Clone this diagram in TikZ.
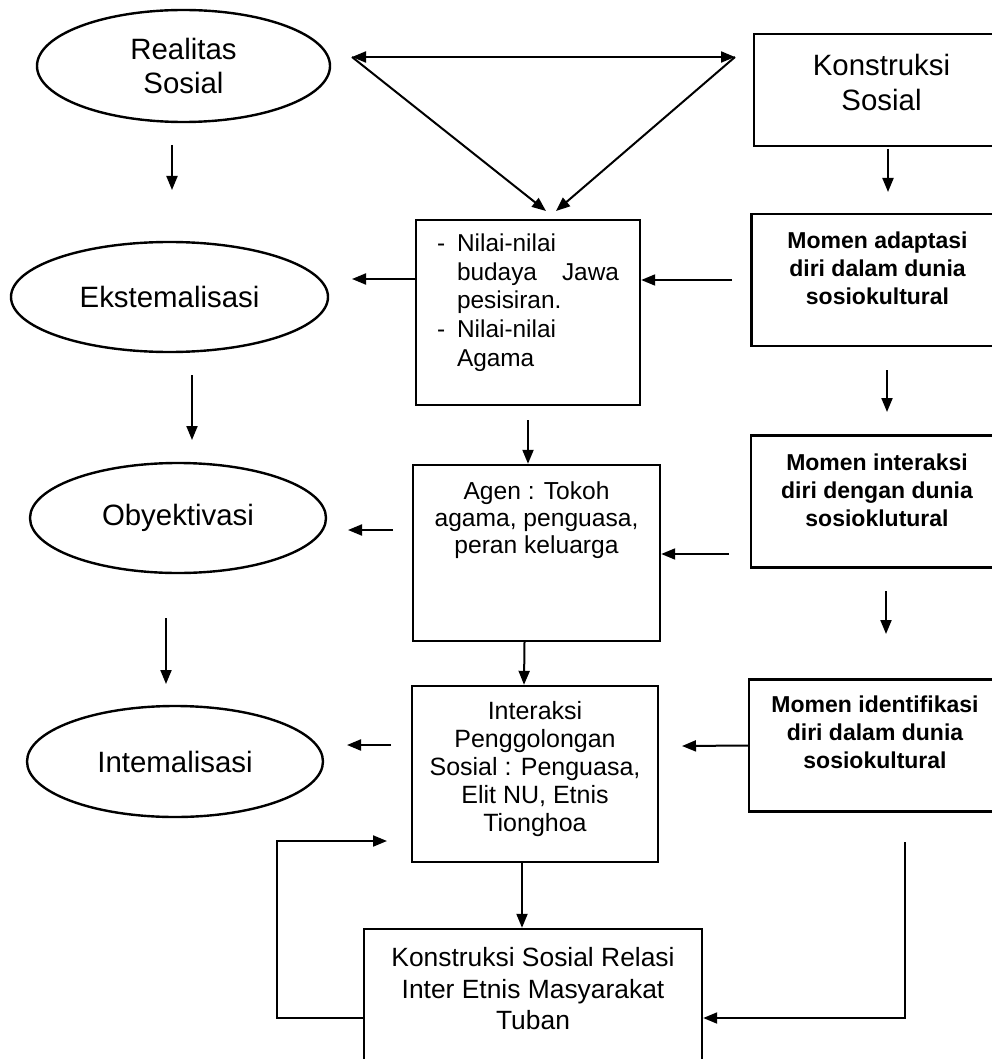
\documentclass[tikz,border=0pt]{standalone}
\usepackage{fontspec}
\setmainfont{Liberation Sans}
\usetikzlibrary{shapes.geometric,arrows.meta}

\begin{document}
\begin{tikzpicture}[x=0.5pt, y=-0.5pt,
  oval/.style={draw, ellipse, line width=1.2pt, inner sep=0pt, align=center, font=\fontsize{14.7}{17}\selectfont},
  box/.style={draw, line width=1.2pt, inner sep=0pt, align=center},
  momen/.style={box, minimum width=126pt, minimum height=66pt, font=\fontsize{11.5}{14}\selectfont\bfseries},
  arr/.style={line width=1pt, -{Triangle[length=7pt,width=5.5pt]}}]
\useasboundingbox (0,0) rectangle (991,1059);
% left column: the three moments
\node[oval, minimum width=146.5pt, minimum height=56pt] (real) at (183.5,66) {Realitas\\Sosial};
\node[oval, minimum width=158.5pt, minimum height=55pt] (ekst) at (169.5,297) {Ekstemalisasi};
\node[oval, minimum width=148pt, minimum height=55pt] (obyek) at (178,518) {Obyektivasi};
\node[oval, minimum width=148pt, minimum height=55.5pt] (intem) at (175,761.5) {Intemalisasi};
% middle column
\node[box, align=left, minimum width=112pt, minimum height=92.5pt, text depth=12.5pt, font=\fontsize{12.2}{14.4}\selectfont] (nilai) at (528,312.5)
  {-\hspace{6pt}Nilai-nilai\\\hspace*{10pt}\makebox[81pt][s]{budaya Jawa}\\\hspace*{10pt}pesisiran.\\-\hspace{6pt}Nilai-nilai\\\hspace*{10pt}Agama};
\node[box, minimum width=123.5pt, minimum height=88pt, text depth=35pt, font=\fontsize{12.3}{13.5}\selectfont] (agen) at (536.5,553)
  {Agen : Tokoh\\agama, penguasa,\\peran keluarga};
\node[box, minimum width=123pt, minimum height=88pt, text depth=7.5pt, font=\fontsize{12.5}{14}\selectfont] (inter) at (535,774)
  {Interaksi\\Penggolongan\\Sosial : Penguasa,\\Elit NU, Etnis\\Tionghoa};
\node[box, minimum width=169pt, minimum height=69.5pt, text depth=10pt, font=\fontsize{13.2}{15.75}\selectfont] (relasi) at (533,998.5)
  {Konstruksi Sosial Relasi\\Inter Etnis Masyarakat\\Tuban};
% right column
\node[box, minimum width=127.5pt, minimum height=56pt, text depth=7.5pt, font=\fontsize{14.7}{17.5}\selectfont] (konsos) at (881.5,90) {Konstruksi\\Sosial};
\node[momen, text depth=12pt] (mad) at (877.5,280) {Momen adaptasi\\diri dalam dunia\\sosiokultural};
\node[momen, text depth=11pt] (mint) at (877,501.5) {Momen interaksi\\diri dengan dunia\\sosioklutural};
\node[momen, text depth=13pt] (mid) at (875,745.5) {Momen identifikasi\\diri dalam dunia\\sosiokultural};

% free ends of the connectors
\coordinate (tl) at (352,57); \coordinate (tr) at (735,57);
\coordinate (bl) at (546,211); \coordinate (br) at (556,211);
\coordinate (a1s) at (172,145); \coordinate (a1e) at (172,190);
\coordinate (a3s) at (888,149); \coordinate (a3e) at (888,192);
\coordinate (a4) at (732,280); \coordinate (a5) at (352,279);
\coordinate (a6s) at (192,375); \coordinate (a6e) at (192,440);
\coordinate (a7) at (528,420);
\coordinate (a8s) at (393,530); \coordinate (a8e) at (348,530);
\coordinate (a9s) at (887,370); \coordinate (a9e) at (887,412);
\coordinate (a10) at (729,554);
\coordinate (a12s) at (166,618); \coordinate (a12e) at (166,684);
\coordinate (a13s) at (886,591); \coordinate (a13e) at (886,634);
\coordinate (a14s) at (391,745); \coordinate (a14e) at (347,745);
\coordinate (a15) at (682,746);
\coordinate (fb) at (277,1018); \coordinate (fbt) at (387,841);
\coordinate (rs) at (905,842);

% triangle on top
\draw[arr, {Triangle[length=7pt,width=5.5pt]}-{Triangle[length=7pt,width=5.5pt]}] (tl) -- (tr);
\draw[arr] (tl) -- (bl);
\draw[arr] (tr) -- (br);
% vertical arrows
\draw[arr] (a1s) -- (a1e);
\draw[arr] (a3s) -- (a3e);
\draw[arr] (a6s) -- (a6e);
\draw[arr] (a9s) -- (a9e);
\draw[arr] (a12s) -- (a12e);
\draw[arr] (a13s) -- (a13e);
\draw[arr] (a7) -- (a7 |- agen.north);
\draw[arr] ([xshift=-6pt]agen.south) -- ([xshift=-5.5pt]inter.north);
\draw[arr] ([xshift=-6.5pt]inter.south) -- ([xshift=-5.5pt]relasi.north);
% horizontal arrows
\draw[arr] (a4) -- (a4 -| nilai.east);
\draw[arr] (nilai.west |- a5) -- (a5);
\draw[arr] (a8s) -- (a8e);
\draw[arr] (a10) -- (a10 -| agen.east);
\draw[arr] (a14s) -- (a14e);
\draw[arr] (mid.west) -- (a15);
% feedback loops
\draw[arr] (relasi.west |- fb) -- (fb) |- (fbt);
\draw[arr] (rs) |- (relasi.east |- fb);
\end{tikzpicture}
\end{document}
